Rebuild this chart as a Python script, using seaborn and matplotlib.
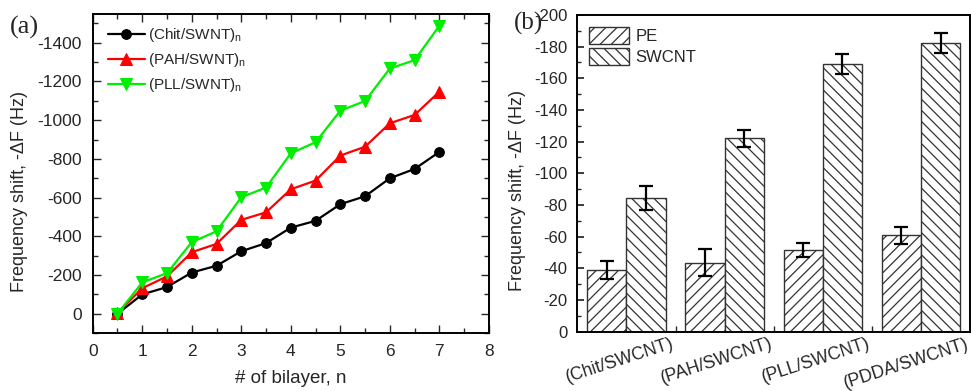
import numpy as np
import pandas as pd
import matplotlib
matplotlib.use("Agg")
import matplotlib.pyplot as plt
import matplotlib.transforms as mtransforms
import seaborn as sns
from matplotlib.patches import Patch
from matplotlib.ticker import MultipleLocator

# ---- data ----
bilayers = [0.5, 1, 1.5, 2, 2.5, 3, 3.5, 4, 4.5, 5, 5.5, 6, 6.5, 7]
chit_swnt = [0, -100, -138, -213, -248, -323, -365, -445, -480, -566, -607, -700, -748, -836]
pah_swnt = [-5, -132, -193, -318, -361, -485, -524, -643, -688, -817, -863, -984, -1027, -1147]
pll_swnt = [0, -162, -210, -370, -426, -602, -652, -829, -886, -1049, -1099, -1267, -1310, -1488]
series_names = ["(Chit/SWNT)$_\\mathregular{n}$", "(PAH/SWNT)$_\\mathregular{n}$", "(PLL/SWNT)$_\\mathregular{n}$"]

systems = ["(Chit/SWCNT)", "(PAH/SWCNT)", "(PLL/SWCNT)", "(PDDA/SWCNT)"]
pe_shift = [-38.7, -43.6, -51.6, -60.8]
pe_err = [5.8, 8.8, 4.2, 5.3]
swcnt_shift = [-84.2, -122.1, -169.0, -182.1]
swcnt_err = [7.7, 5.3, 6.3, 6.3]
layer_names = ["PE", "SWCNT"]

# ---- style ----
sns.set_theme(style="ticks")
plt.rcParams["font.family"] = ["Liberation Sans", "DejaVu Sans"]
plt.rcParams["axes.unicode_minus"] = False
plt.rcParams["mathtext.fontset"] = "custom"
plt.rcParams["mathtext.rm"] = "Liberation Sans"
plt.rcParams["hatch.linewidth"] = 0.9
plt.rcParams["hatch.color"] = "#222222"

fig = plt.figure(figsize=(9.71, 3.91), dpi=100)
axa = fig.add_axes([0.0955, 0.148, 0.408, 0.816])
axb = fig.add_axes([0.5946, 0.152, 0.4044, 0.810])

# ---- panel (a) ----
df_a = pd.DataFrame({
    "n": bilayers * 3,
    "dF": chit_swnt + pah_swnt + pll_swnt,
    "series": [series_names[0]] * len(bilayers) + [series_names[1]] * len(bilayers) + [series_names[2]] * len(bilayers),
})
palette = {series_names[0]: "black", series_names[1]: "#ff0000", series_names[2]: "#00ee00"}
markers = {series_names[0]: "o", series_names[1]: "^", series_names[2]: "v"}
sns.lineplot(data=df_a, x="n", y="dF", hue="series", style="series", palette=palette,
             markers=markers, dashes=False, linewidth=1.6, markersize=8, ax=axa, legend=False)
for ln in axa.lines:
    ln.set_markeredgecolor(ln.get_color())
    ln.set_markerfacecolor(ln.get_color())
for ln, name in zip(axa.lines, series_names):
    if markers[name] == "o":
        ln.set_markersize(7)
    ln.set_label(name)
axa.legend(handles=axa.lines[:3], loc="upper left", frameon=False, fontsize=11,
           handlelength=2.4, handletextpad=0.2, labelspacing=0.45,
           bbox_to_anchor=(0.0, 1.01), borderaxespad=0.6)

axa.set_xlim(0, 8)
axa.set_ylim(100, -1548)
axa.xaxis.set_major_locator(MultipleLocator(1))
axa.xaxis.set_minor_locator(MultipleLocator(0.5))
axa.yaxis.set_major_locator(MultipleLocator(200))
axa.yaxis.set_minor_locator(MultipleLocator(100))
axa.tick_params(which="both", direction="in", top=True, right=True, labelsize=12.5, width=1.0)
axa.tick_params(which="major", length=6)
axa.tick_params(which="minor", length=3.5)
axa.tick_params(axis="y", pad=8)
axa.tick_params(axis="x", pad=8)
axa.set_xlabel("# of bilayer, n", fontsize=13.5)
axa.xaxis.set_label_coords(0.5, -0.115)
axa.set_ylabel("Frequency shift, -ΔF (Hz)", fontsize=13)
axa.yaxis.set_label_coords(-0.163, 0.445)
for s in axa.spines.values():
    s.set_linewidth(1.4)
    s.set_color("black")
fig.text(0.010, 0.931, "(a)", fontsize=19, family="Liberation Serif", va="center")

# ---- panel (b) ----
df_b = pd.DataFrame({
    "system": systems * 2,
    "dF": pe_shift + swcnt_shift,
    "err": pe_err + swcnt_err,
    "layer": [layer_names[0]] * 4 + [layer_names[1]] * 4,
})
sns.barplot(data=df_b, x="system", y="dF", hue="layer", order=systems, hue_order=layer_names,
            palette={"PE": "white", "SWCNT": "white"}, errorbar=None, width=0.8,
            edgecolor="#333333", linewidth=1.0, ax=axb, legend=False)
hatches = {"PE": "///", "SWCNT": "\\\\\\"}
bars = [p for p in axb.patches]
for i, p in enumerate(bars):
    layer = layer_names[i // 4]
    p.set_hatch(hatches[layer])
    row = df_b.iloc[i]
    cx = p.get_x() + p.get_width() / 2
    axb.errorbar(cx, row["dF"], yerr=row["err"], fmt="none", ecolor="black",
                 elinewidth=1.6, capsize=5, capthick=1.6)

handles = [Patch(facecolor="white", edgecolor="#333333", hatch=hatches[n], label=n) for n in layer_names]
axb.legend(handles=handles, loc="upper left", frameon=False, fontsize=12,
           handlelength=2.4, handleheight=1.2, handletextpad=0.4, labelspacing=0.25,
           borderaxespad=0.3)

axb.set_xlim(-0.5, 3.5)
axb.set_ylim(0, -200)
axb.yaxis.set_major_locator(MultipleLocator(20))
axb.yaxis.set_minor_locator(MultipleLocator(10))
axb.set_xticks(range(4))
axb.set_xticklabels([])
axb.set_xticks([0.5, 1.5, 2.5], minor=True)
axb.tick_params(axis="x", which="major", length=0)
axb.tick_params(axis="x", which="minor", direction="in", length=4)
axb.tick_params(axis="y", which="major", direction="in", length=5, labelsize=12, pad=7)
axb.tick_params(axis="y", which="minor", direction="in", length=3)
# rotated category labels: right end ~0.5 in right of category, top just below axis
lbl_trans = axb.get_xaxis_transform() + mtransforms.ScaledTranslation(0.50, -0.035, fig.dpi_scale_trans)
for i, name in enumerate(systems):
    axb.text(i, 0, name, transform=lbl_trans, rotation=18, fontsize=12.7,
             ha="right", va="top")
axb.set_xlabel("")
axb.set_ylabel("Frequency shift, -ΔF (Hz)", fontsize=13)
axb.yaxis.set_label_coords(-0.132, 0.445)
for s in axb.spines.values():
    s.set_linewidth(1.4)
    s.set_color("black")
fig.text(0.529, 0.939, "(b)", fontsize=18, family="Liberation Serif", va="center")

fig.savefig("out.png", dpi=100)
